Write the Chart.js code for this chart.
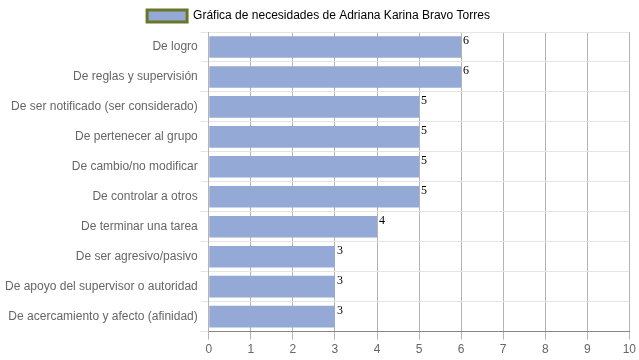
<!DOCTYPE html>
<html>
<head>
<meta charset="utf-8">
<script src="https://cdn.jsdelivr.net/npm/chart.js@4"></script>
<style>
  html, body { margin: 0; padding: 0; background: #fff; }
  #wrap { width: 639px; height: 360px; }
</style>
</head>
<body>
<div id="wrap"><canvas id="needsChart" width="639" height="360"></canvas></div>
<script>
const categories = [
    'De logro',
    'De reglas y supervisión',
    'De ser notificado (ser considerado)',
    'De pertenecer al grupo',
    'De cambio/no modificar',
    'De controlar a otros',
    'De terminar una tarea',
    'De ser agresivo/pasivo',
    'De apoyo del supervisor o autoridad',
    'De acercamiento y afecto (afinidad)'
];
const scores = [6, 6, 5, 5, 5, 5, 4, 3, 3, 3];
const xTicks = [0, 1, 2, 3, 4, 5, 6, 7, 8, 9, 10];
const seriesName = 'Gráfica de necesidades de Adriana Karina Bravo Torres';

// writes the value just right of each bar end
const valueLabels = {
    id: 'valueLabels',
    afterDatasetsDraw(chart) {
        const c = chart.ctx;
        const meta = chart.getDatasetMeta(0);
        c.save();
        c.font = '12px "Liberation Serif", "Times New Roman", serif';
        c.fillStyle = '#000';
        c.textAlign = 'left';
        c.textBaseline = 'top';
        meta.data.forEach((bar, i) => {
            c.fillText(String(scores[i]), bar.x + 2, bar.y - bar.height / 2 - 1);
        });
        c.restore();
    }
};

Chart.defaults.font.family = '"Liberation Sans", Arial, sans-serif';
Chart.defaults.font.size = 12;
Chart.defaults.color = '#666';

const ctx = document.getElementById('needsChart').getContext('2d');
new Chart(ctx, {
    type: 'bar',
    data: {
        labels: categories,
        datasets: [{
            label: seriesName,
            data: scores,
            backgroundColor: '#94a9d5',
            borderColor: '#6b7626',
            borderWidth: 0
        }]
    },
    options: {
        indexAxis: 'y',
        responsive: false,
        animation: false,
        layout: { padding: { right: 4, left: 2 } },
        plugins: {
            legend: {
                labels: {
                    boxWidth: 40,
                    boxHeight: 12,
                    generateLabels(chart) {
                        return [{
                            text: seriesName,
                            fillStyle: '#94a9d5',
                            strokeStyle: '#6b7626',
                            lineWidth: 3,
                            datasetIndex: 0
                        }];
                    }
                }
            },
            tooltip: { enabled: false }
        },
        scales: {
            x: {
                min: 0,
                max: 10,
                afterBuildTicks(axis) { axis.ticks = xTicks.map(v => ({ value: v })); },
                ticks: { color: '#666' },
                grid: { color: '#b4b4b4', tickLength: 8 },
                border: { color: '#888' }
            },
            y: {
                ticks: { color: '#666' },
                grid: { color: '#e4e4e4', tickLength: 8 },
                border: { color: '#b4b4b4' }
            }
        }
    },
    plugins: [valueLabels]
});
</script>
</body>
</html>
